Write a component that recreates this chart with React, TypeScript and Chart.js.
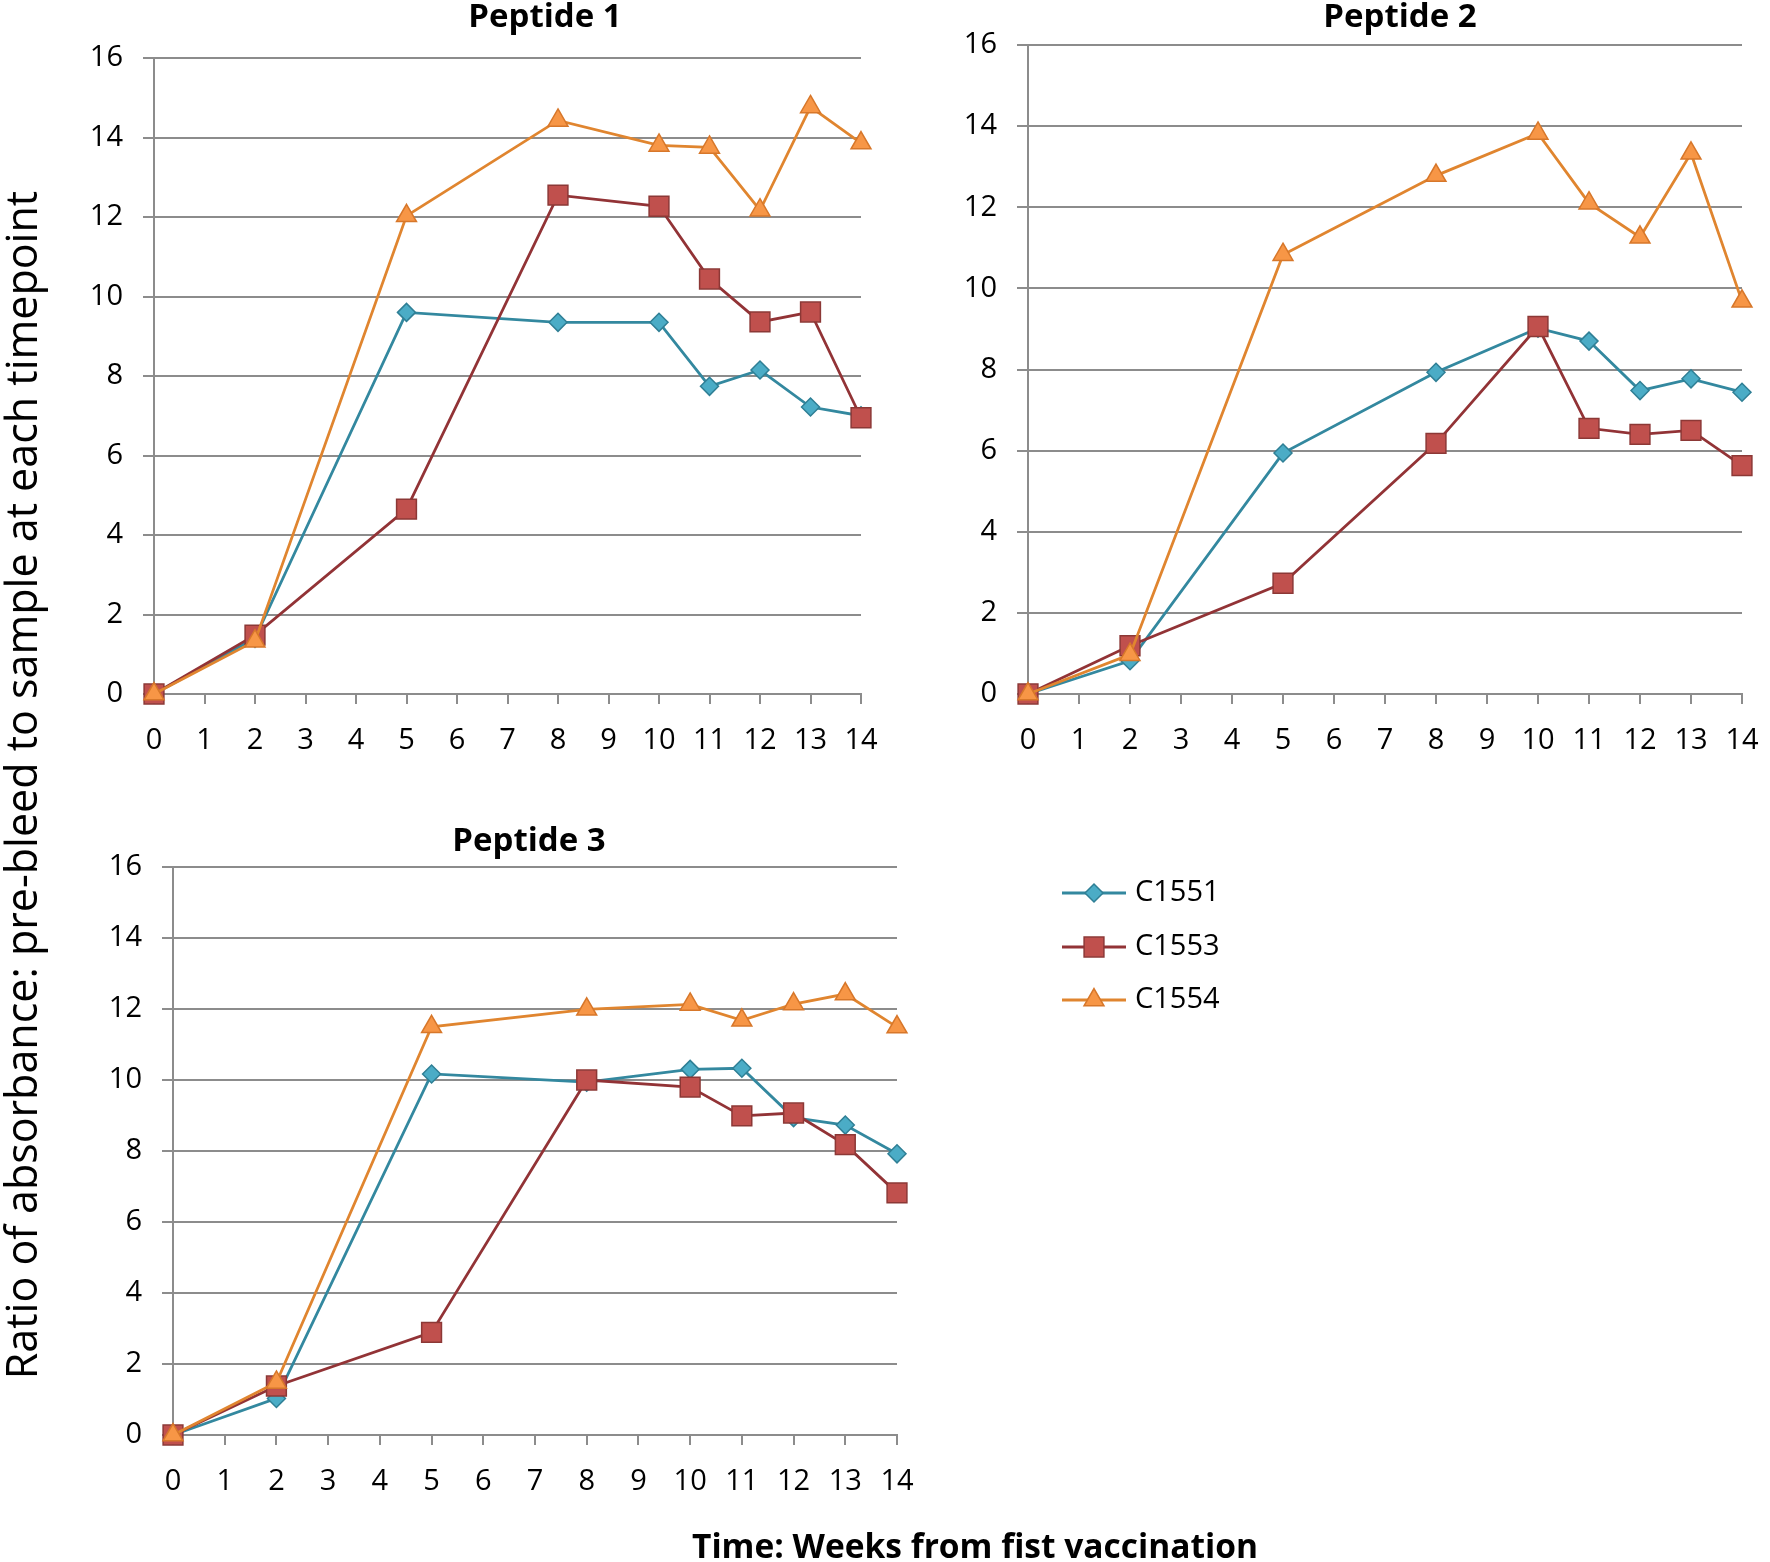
import React, { useEffect, useRef } from 'react';
import { Chart, registerables } from 'chart.js';
import { drawPoint } from 'chart.js/helpers';

Chart.register(...registerables);

// ---------- data ----------
const weeks = [0, 2, 5, 8, 10, 11, 12, 13, 14];
const seriesNames = ['C1551', 'C1553', 'C1554'];

const p1C1551 = [0, 1.4, 9.6, 9.35, 9.35, 7.74, 8.15, 7.22, 7.0];
const p1C1553 = [0, 1.48, 4.65, 12.55, 12.27, 10.44, 9.36, 9.61, 6.95];
const p1C1554 = [0, 1.33, 12.03, 14.43, 13.8, 13.75, 12.17, 14.77, 13.86];

const p2C1551 = [0, 0.82, 5.94, 7.93, 9.02, 8.7, 7.48, 7.77, 7.44];
const p2C1553 = [0, 1.19, 2.73, 6.18, 9.06, 6.55, 6.4, 6.5, 5.63];
const p2C1554 = [0, 0.97, 10.83, 12.78, 13.82, 12.1, 11.26, 13.33, 9.68];

const p3C1551 = [0, 1.03, 10.17, 9.94, 10.3, 10.33, 8.94, 8.73, 7.92];
const p3C1553 = [0, 1.38, 2.89, 10.0, 9.8, 8.99, 9.07, 8.18, 6.82];
const p3C1554 = [0, 1.48, 11.5, 11.99, 12.13, 11.68, 12.14, 12.42, 11.49];

const xMin = 0;
const xMax = 14;
const xStep = 1;
const yMin = 0;
const yMax = 16;
const yStep = 2;

const panelTitles = ['Peptide 1', 'Peptide 2', 'Peptide 3'];
const yAxisTitle = 'Ratio of absorbance: pre-bleed to sample at each timepoint';
const xAxisTitle = 'Time: Weeks from fist vaccination';

// ---------- styles ----------
const FONT = "'Open Sans', 'Noto Sans', sans-serif";
const GRID = '#8c8c8c';
const seriesStyles = [
  { line: '#33889f', fill: '#4bacc6', border: '#2f7f95', pointStyle: 'rectRot', radius: 9, order: 2 },
  { line: '#923336', fill: '#c0504d', border: '#8c3836', pointStyle: 'rect', radius: 14, order: 1 },
  { line: '#e0852f', fill: '#f79646', border: '#d7772a', pointStyle: 'triangle', radius: 11.5, order: 0 },
];

const panelTextPlugin = {
  id: 'panelText',
  afterDraw(chart: any, _args: any, opts: any) {
    const ctx = chart.ctx;
    ctx.save();
    if (opts.title) {
      ctx.font = `bold 33px ${FONT}`;
      ctx.fillStyle = '#000';
      ctx.textAlign = 'center';
      ctx.textBaseline = 'alphabetic';
      ctx.fillText(opts.title, opts.titleX, opts.titleY);
    }
    if (opts.legend) {
      chart.data.datasets.forEach((ds: any, i: number) => {
        const y = opts.legendY[i];
        ctx.strokeStyle = ds.borderColor;
        ctx.lineWidth = ds.borderWidth;
        ctx.beginPath();
        ctx.moveTo(opts.legendX1, y);
        ctx.lineTo(opts.legendX2, y);
        ctx.stroke();
        ctx.fillStyle = ds.pointBackgroundColor;
        ctx.strokeStyle = ds.pointBorderColor;
        ctx.lineWidth = ds.pointBorderWidth;
        drawPoint(
          ctx,
          { pointStyle: ds.pointStyle, radius: ds.pointRadius, rotation: 0, borderWidth: ds.pointBorderWidth } as any,
          (opts.legendX1 + opts.legendX2) / 2,
          y
        );
        ctx.font = `29px ${FONT}`;
        ctx.fillStyle = '#000';
        ctx.textAlign = 'left';
        ctx.textBaseline = 'middle';
        ctx.fillText(ds.label, opts.legendTextX, y);
      });
    }
    ctx.restore();
  },
};

type PanelCfg = {
  series: number[][];
  title: string;
  left: number;
  top: number;
  width: number;
  height: number;
  yWidth: number;
  padTop: number;
  padRight: number;
  padBottom: number;
  titleX: number;
  titleY: number;
  legend?: boolean;
};

function Panel({ cfg }: { cfg: PanelCfg }) {
  const ref = useRef<HTMLCanvasElement | null>(null);
  useEffect(() => {
    if (!ref.current) return;
    const datasets = cfg.series.map((vals, i) => {
      const s = seriesStyles[i];
      return {
        label: seriesNames[i],
        data: weeks.map((w, k) => ({ x: w, y: vals[k] })),
        borderColor: s.line,
        borderWidth: 2.8,
        pointStyle: s.pointStyle,
        pointRadius: s.radius,
        pointBackgroundColor: s.fill,
        pointBorderColor: s.border,
        pointBorderWidth: 1.5,
        tension: 0,
        fill: false,
        clip: false,
        order: s.order,
      };
    });
    const chart = new Chart(ref.current, {
      type: 'line',
      data: { datasets },
      plugins: [panelTextPlugin],
      options: {
        responsive: false,
        animation: false,
        events: [],
        layout: { padding: { left: 0, top: cfg.padTop, right: cfg.padRight, bottom: cfg.padBottom } },
        plugins: {
          legend: { display: false },
          title: { display: false },
          tooltip: { enabled: false },
          panelText: {
            title: cfg.title,
            titleX: cfg.titleX,
            titleY: cfg.titleY,
            legend: !!cfg.legend,
            legendX1: 1062,
            legendX2: 1126,
            legendTextX: 1135,
            legendY: [113, 167, 220],
          },
        } as any,
        scales: {
          x: {
            type: 'linear',
            min: xMin,
            max: xMax,
            ticks: {
              stepSize: xStep,
              autoSkip: false,
              maxRotation: 0,
              color: '#000',
              padding: 19,
              font: { family: FONT, size: 29 },
            },
            grid: { drawOnChartArea: false, drawTicks: true, tickLength: 10, color: GRID, lineWidth: 2 },
            border: { color: GRID, width: 2 },
            afterFit: (s: any) => {
              s.height = 60;
            },
          },
          y: {
            type: 'linear',
            min: yMin,
            max: yMax,
            ticks: {
              stepSize: yStep,
              color: '#000',
              padding: 20,
              font: { family: FONT, size: 29 },
            },
            grid: { color: GRID, lineWidth: 2, tickLength: 11, drawTicks: true },
            border: { color: GRID, width: 2 },
            afterFit: (s: any) => {
              s.width = cfg.yWidth;
            },
          },
        },
      } as any,
    });
    return () => chart.destroy();
  }, [cfg]);
  return (
    <div style={{ position: 'absolute', left: cfg.left, top: cfg.top, width: cfg.width, height: cfg.height }}>
      <canvas ref={ref} width={cfg.width} height={cfg.height} style={{ width: cfg.width, height: cfg.height, display: 'block' }} />
    </div>
  );
}

const panel1: PanelCfg = {
  series: [p1C1551, p1C1553, p1C1554],
  title: panelTitles[0],
  left: 0, top: 0, width: 900, height: 780,
  yWidth: 154, padTop: 58, padRight: 39, padBottom: 26,
  titleX: 545, titleY: 27,
};
const panel2: PanelCfg = {
  series: [p2C1551, p2C1553, p2C1554],
  title: panelTitles[1],
  left: 900, top: 0, width: 920, height: 780,
  yWidth: 128, padTop: 45, padRight: 78, padBottom: 26,
  titleX: 500, titleY: 27,
};
const panel3: PanelCfg = {
  series: [p3C1551, p3C1553, p3C1554],
  title: panelTitles[2],
  left: 0, top: 780, width: 1260, height: 782,
  yWidth: 173, padTop: 87, padRight: 363, padBottom: 67,
  titleX: 529, titleY: 71,
  legend: true,
};

export default function App() {
  return (
    <div
      style={{
        position: 'absolute',
        left: 0,
        top: 0,
        width: 1770,
        height: 1562,
        overflow: 'hidden',
        background: '#fff',
        fontFamily: FONT,
      }}
    >
      <Panel cfg={panel1} />
      <Panel cfg={panel2} />
      <Panel cfg={panel3} />
      <div
        style={{
          position: 'absolute',
          left: 21 - 650,
          top: 785 - 25,
          width: 1300,
          height: 50,
          lineHeight: '50px',
          fontSize: 43,
          textAlign: 'center',
          whiteSpace: 'nowrap',
          color: '#000',
          transform: 'rotate(-90deg)',
          transformOrigin: 'center center',
        }}
      >
        {yAxisTitle}
      </div>
      <div
        style={{
          position: 'absolute',
          left: 975 - 400,
          top: 1525,
          width: 800,
          height: 40,
          lineHeight: '40px',
          fontSize: 33.5,
          fontWeight: 'bold',
          textAlign: 'center',
          whiteSpace: 'nowrap',
          color: '#000',
        }}
      >
        {xAxisTitle}
      </div>
    </div>
  );
}
